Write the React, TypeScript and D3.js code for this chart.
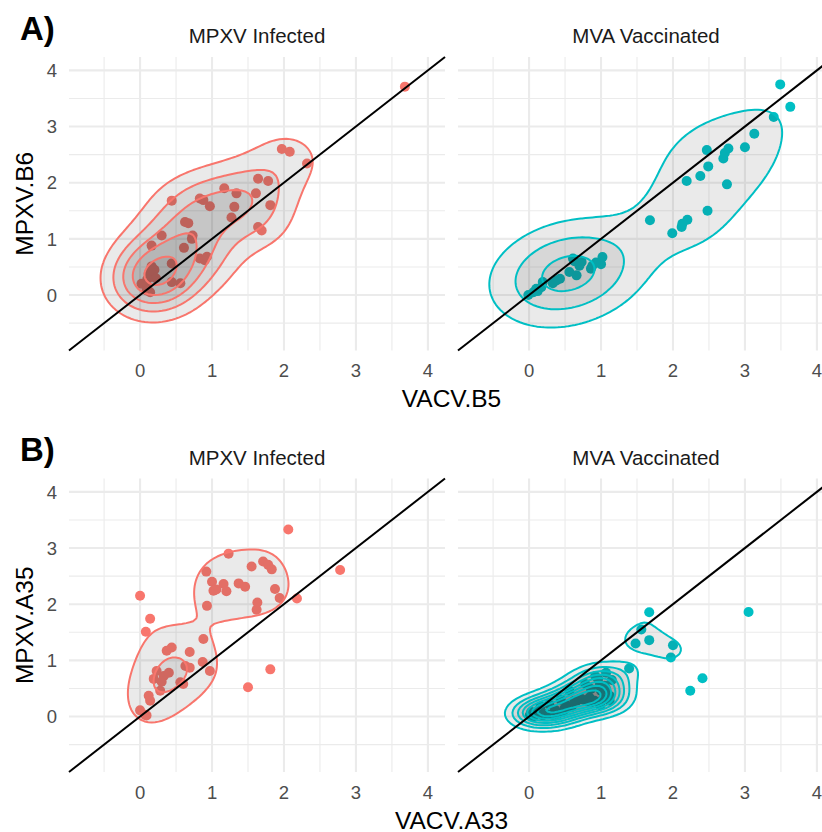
import React, { useRef, useEffect } from 'react';
import * as d3 from 'd3';

// A) VACV.B5 vs MPXV.B6
const aInfectedB5 = [0.02, 0.10, 0.14, 0.09, 0.12, 0.14, 0.16, 0.20, 0.15, 0.22, 0.10, 0.16, 0.30, 0.44, 0.44, 0.44, 0.56, 0.61, 0.625, 0.67, 0.73, 0.72, 0.83, 0.90, 0.93, 0.83, 0.88, 0.97, 1.17, 1.27, 1.31, 1.34, 1.61, 1.64, 1.78, 1.81, 1.64, 1.69, 1.97, 2.08, 2.32, 3.68];
const aInfectedB6 = [0.20, 0.15, 0.05, 0.08, 0.38, 0.32, 0.51, 0.45, 0.42, 0.30, 0.28, 0.88, 1.06, 1.68, 0.56, 0.23, 0.21, 0.84, 1.30, 1.28, 1.06, 1.00, 0.65, 0.62, 0.68, 1.72, 1.69, 1.58, 1.90, 1.38, 1.57, 1.81, 1.81, 2.07, 2.03, 1.60, 1.21, 1.15, 2.60, 2.55, 2.34, 3.71];
const aVaccinatedB5 = [-0.01, 0.06, 0.10, 0.17, 0.19, 0.33, 0.43, 0.56, 0.66, 0.61, 0.63, 0.73, 0.86, 0.88, 1.0, 1.02, 0.12, 0.38, 0.70, 0.93, 1.68, 1.99, 2.12, 2.13, 2.20, 2.48, 2.19, 2.38, 2.49, 2.47, 2.75, 2.70, 2.72, 2.77, 3.0, 3.13, 3.40, 3.49, 3.63];
const aVaccinatedB6 = [0.0, 0.05, 0.11, 0.14, 0.23, 0.21, 0.29, 0.41, 0.35, 0.65, 0.60, 0.59, 0.47, 0.52, 0.55, 0.675, 0.07, 0.26, 0.52, 0.58, 1.33, 1.10, 1.21, 1.27, 1.34, 1.50, 2.03, 2.12, 2.29, 2.58, 1.97, 2.43, 2.53, 2.61, 2.63, 2.87, 3.17, 3.75, 3.35];

// B) VACV.A33 vs MPXV.A35
const bInfectedA33 = [0.0, 0.07, 0.09, 0.12, 0.14, 0.28, 0.19, 0.23, 0.33, 0.40, 0.30, 0.56, 0.60, 0.63, 0.69, 0.87, 0.97, 0.37, 0.44, 0.69, 0.88, 0.08, 0.14, 0.0, 0.93, 0.92, 1.0, 1.02, 1.06, 1.16, 1.20, 1.37, 1.46, 1.23, 1.55, 1.71, 1.78, 1.83, 1.62, 1.63, 1.875, 1.94, 2.18, 2.06, 2.78, 1.81, 1.50];
const bInfectedA35 = [0.11, 0.03, 0.02, 0.37, 0.28, 0.46, 0.67, 0.81, 0.72, 0.78, 0.62, 0.61, 0.58, 0.90, 0.87, 0.97, 0.81, 1.17, 1.23, 1.15, 1.38, 1.51, 1.74, 2.15, 1.97, 2.58, 2.40, 2.24, 2.26, 2.36, 2.23, 2.37, 2.31, 2.90, 2.67, 2.76, 2.70, 2.62, 1.90, 2.03, 2.27, 2.11, 2.10, 3.33, 2.61, 0.84, 0.52];
const bVaccinatedA33 = [0.01, 0.03, 0.10, 0.19, 0.33, 0.40, 0.47, 0.49, 0.59, 0.56, 0.06, 0.13, 0.16, 0.24, 0.28, 0.36, 0.44, 0.52, 0.63, 0.66, 0.70, 0.73, 0.79, 0.84, 0.86, 0.91, 0.99, 1.03, 1.12, 1.12, 0.86, 1.0, 1.05, 0.98, 1.07, 0.96, 1.07, 0.78, 1.15, 0.92, 1.39, 1.48, 1.56, 1.67, 1.67, 2.0, 1.97, 2.24, 2.41, 3.05];
const bVaccinatedA35 = [0.02, 0.08, 0.05, 0.02, 0.03, 0.05, 0.08, 0.14, 0.17, 0.46, 0.0, 0.10, 0.18, 0.05, 0.22, 0.12, 0.30, 0.20, 0.28, 0.28, 0.31, 0.31, 0.28, 0.34, 0.25, 0.28, 0.20, 0.31, 0.28, 0.37, 0.49, 0.46, 0.55, 0.55, 0.49, 0.67, 0.78, 0.58, 0.65, 0.72, 0.855, 1.30, 1.55, 1.36, 1.855, 1.27, 1.05, 0.46, 0.68, 1.86];

const groupNames = ['MPXV Infected', 'MVA Vaccinated'];
const groupColors = ['#F8766D', '#00BFC4'];
const rowLabels = ['A)', 'B)'];
const xTitles = ['VACV.B5', 'VACV.A33'];
const yTitles = ['MPXV.B6', 'MPXV.A35'];
const majorTicks = [0, 1, 2, 3, 4];
const minorTicks = [-0.5, 0.5, 1.5, 2.5, 3.5];
const dataLimits = [-0.75, 4];
// number of contour steps between 0 and the highest density of each row
const contourSteps = [5.5, 9.0];

const rows = [
  [[aInfectedB5, aInfectedB6], [aVaccinatedB5, aVaccinatedB6]],
  [[bInfectedA33, bInfectedA35], [bVaccinatedA33, bVaccinatedA35]],
];

// MASS::bandwidth.nrd
function bandwidthNrd(v: number[]) {
  const s = [...v].sort(d3.ascending);
  const iqr = (d3.quantileSorted(s, 0.75)! - d3.quantileSorted(s, 0.25)!) / 1.34;
  return 4 * 1.06 * Math.min(d3.deviation(v)!, iqr) * Math.pow(v.length, -0.2);
}

// MASS::kde2d on an n x n grid
function kde2d(xs: number[], ys: number[], n: number) {
  const hx = bandwidthNrd(xs) / 4;
  const hy = bandwidthNrd(ys) / 4;
  const [lo, hi] = dataLimits;
  const g = d3.range(n).map(i => lo + (i * (hi - lo)) / (n - 1));
  const phi = (u: number) => Math.exp(-0.5 * u * u) / Math.sqrt(2 * Math.PI);
  const values = new Array(n * n).fill(0);
  const N = xs.length;
  for (let j = 0; j < n; j++) {
    for (let i = 0; i < n; i++) {
      let s = 0;
      for (let k = 0; k < N; k++) s += phi((g[i] - xs[k]) / hx) * phi((g[j] - ys[k]) / hy);
      values[j * n + i] = s / (N * hx * hy);
    }
  }
  return values;
}

const App: React.FC = () => {
  const svgRef = useRef<SVGSVGElement>(null);

  useEffect(() => {
    if (!svgRef.current) return;
    const svg = d3.select(svgRef.current);
    svg.selectAll('*').remove();

    const width = 822;
    const height = 832;
    svg.attr('width', width).attr('height', height);
    svg.append('rect').attr('width', width).attr('height', height).attr('fill', '#fff');

    const font = "'Liberation Sans', Arial, sans-serif";
    const panelX = [[69, 445], [458, 834]];
    const rowTop = [57, 478.5];
    const panelH = 293.5;
    const expand = (dataLimits[1] - dataLimits[0]) * 0.05;
    const domain = [dataLimits[0] - expand, dataLimits[1] + expand];
    const n = 100;
    const step = (dataLimits[1] - dataLimits[0]) / (n - 1);

    rows.forEach((row, r) => {
      const top = rowTop[r];
      const bottom = top + panelH;
      const y = d3.scaleLinear().domain(domain).range([bottom, top]);

      // contour levels are shared by both panels of a row
      const grids = row.map(([xs, ys]) => kde2d(xs, ys, n));
      const zmax = d3.max(grids, gr => d3.max(gr))!;
      const bw = zmax / contourSteps[r];
      const levels = d3.range(1, Math.floor(contourSteps[r]) + 1).map(k => k * bw);

      row.forEach(([xs, ys], c) => {
        const x = d3.scaleLinear().domain(domain).range(panelX[c]);
        const g = svg.append('g');

        // grid
        g.selectAll('.minorx').data(minorTicks).join('line')
          .attr('x1', d => x(d)).attr('x2', d => x(d)).attr('y1', top).attr('y2', bottom)
          .attr('stroke', '#EBEBEB').attr('stroke-width', 1.1);
        g.selectAll('.minory').data(minorTicks).join('line')
          .attr('y1', d => y(d)).attr('y2', d => y(d)).attr('x1', panelX[c][0]).attr('x2', panelX[c][1])
          .attr('stroke', '#EBEBEB').attr('stroke-width', 1.1);
        g.selectAll('.majorx').data(majorTicks).join('line')
          .attr('x1', d => x(d)).attr('x2', d => x(d)).attr('y1', top).attr('y2', bottom)
          .attr('stroke', '#EBEBEB').attr('stroke-width', 2.1);
        g.selectAll('.majory').data(majorTicks).join('line')
          .attr('y1', d => y(d)).attr('y2', d => y(d)).attr('x1', panelX[c][0]).attr('x2', panelX[c][1])
          .attr('stroke', '#EBEBEB').attr('stroke-width', 2.1);

        // points
        g.selectAll('circle').data(d3.range(xs.length)).join('circle')
          .attr('cx', i => x(xs[i])).attr('cy', i => y(ys[i])).attr('r', 5)
          .attr('fill', groupColors[c]);

        // density contours
        const contours = d3.contours().size([n, n]).thresholds(levels)(grids[c]);
        const proj = d3.geoTransform({
          point(px: number, py: number) {
            this.stream.point(x(dataLimits[0] + (px - 0.5) * step), y(dataLimits[0] + (py - 0.5) * step));
          },
        });
        const path = d3.geoPath(proj);
        g.selectAll('path.dens').data(contours.filter(d => d.coordinates.length)).join('path')
          .attr('class', 'dens')
          .attr('d', d => path(d as any))
          .attr('fill', '#333333').attr('fill-opacity', 0.1)
          .attr('stroke', groupColors[c]).attr('stroke-width', 2);

        // y = x line
        g.append('line')
          .attr('x1', x(domain[0])).attr('y1', y(domain[0]))
          .attr('x2', x(domain[1])).attr('y2', y(domain[1]))
          .attr('stroke', '#000').attr('stroke-width', 2);

        // strip title
        g.append('text')
          .attr('x', (panelX[c][0] + panelX[c][1]) / 2).attr('y', top - 13.7)
          .attr('text-anchor', 'middle').attr('font-family', font).attr('font-size', 20.5)
          .attr('fill', '#1A1A1A').text(groupNames[c]);

        // x tick labels
        g.selectAll('text.xt').data(majorTicks).join('text')
          .attr('class', 'xt')
          .attr('x', d => x(d)).attr('y', bottom + 26.5)
          .attr('text-anchor', 'middle').attr('font-family', font).attr('font-size', 18.5)
          .attr('fill', '#4D4D4D').text(d => d);

        if (c === 0) {
          g.selectAll('text.yt').data(majorTicks).join('text')
            .attr('class', 'yt')
            .attr('x', 57).attr('y', d => y(d)).attr('dy', '0.36em')
            .attr('text-anchor', 'end').attr('font-family', font).attr('font-size', 18.5)
            .attr('fill', '#4D4D4D').text(d => d);
        }
      });

      // axis titles and row label
      svg.append('text')
        .attr('x', 451.5).attr('y', bottom + 56.5)
        .attr('text-anchor', 'middle').attr('font-family', font).attr('font-size', 24.5)
        .attr('fill', '#000').text(xTitles[r]);
      svg.append('text')
        .attr('transform', `translate(33,${(top + bottom) / 2}) rotate(-90)`)
        .attr('text-anchor', 'middle').attr('font-family', font).attr('font-size', 24.5)
        .attr('fill', '#000').text(yTitles[r]);
      svg.append('text')
        .attr('x', 20).attr('y', top - 17.5)
        .attr('font-family', font).attr('font-size', 33).attr('font-weight', 'bold')
        .attr('fill', '#000').text(rowLabels[r]);
    });
  }, []);

  return <svg ref={svgRef} style={{ position: 'absolute', left: 0, top: 0, display: 'block' }}></svg>;
};

export default App;
